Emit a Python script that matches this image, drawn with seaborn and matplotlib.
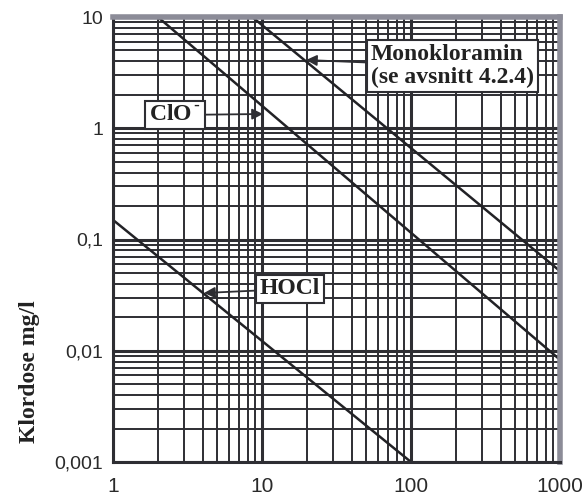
import numpy as np
import pandas as pd
import matplotlib
matplotlib.use('Agg')
import matplotlib.pyplot as plt
import seaborn as sns
from matplotlib.ticker import LogLocator, FixedLocator, FixedFormatter, NullFormatter

# Ct lines: (time, chlorine dose) end points
hocl_t = [1, 100]
hocl_c = [0.15, 0.001]
clo_t = [2, 1000]
clo_c = [10, 0.0083]
mono_t = [8.6, 1000]
mono_c = [10, 0.052]

x_ticks = [1, 10, 100, 1000]
x_labels = ['1', '10', '100', '1000']
y_ticks = [0.001, 0.01, 0.1, 1, 10]
y_labels = ['0,001', '0,01', '0,1', '1', '10']

df = pd.concat([
    pd.DataFrame({'t': hocl_t, 'c': hocl_c, 'serie': 'HOCl'}),
    pd.DataFrame({'t': clo_t, 'c': clo_c, 'serie': 'ClO-'}),
    pd.DataFrame({'t': mono_t, 'c': mono_c, 'serie': 'Monokloramin'}),
])

sns.set_style('white')
plt.rcParams['font.family'] = ['Liberation Sans', 'DejaVu Sans']

W, H = 587, 497
dark = '#2e2e33'
fig = plt.figure(figsize=(W / 100, H / 100), dpi=100)
ax = fig.add_axes([113 / W, 1 - 462 / H, (560 - 113) / W, (462 - 17) / H])

ax.set_xscale('log')
ax.set_yscale('log')
ax.set_xlim(1, 1000)
ax.set_ylim(0.001, 10)

# dense log grid
ax.xaxis.set_minor_locator(LogLocator(base=10, subs=np.arange(2, 10)))
ax.yaxis.set_minor_locator(LogLocator(base=10, subs=np.arange(2, 10)))
ax.xaxis.set_minor_formatter(NullFormatter())
ax.yaxis.set_minor_formatter(NullFormatter())
ax.grid(True, which='major', color=dark, lw=2.2)
ax.grid(True, which='minor', color=dark, lw=1.4)
ax.set_axisbelow(True)

sns.lineplot(data=df, x='t', y='c', units='serie', estimator=None,
             color='#222226', lw=1.8, ax=ax, legend=False, sort=False)

ax.xaxis.set_major_locator(FixedLocator(x_ticks))
ax.xaxis.set_major_formatter(FixedFormatter(x_labels))
ax.yaxis.set_major_locator(FixedLocator(y_ticks))
ax.yaxis.set_major_formatter(FixedFormatter(y_labels))
ax.tick_params(axis='x', which='major', length=4, width=1.2, color=dark, pad=7,
               labelsize=15, labelcolor='#2a2a2a')
ax.tick_params(axis='y', which='major', length=5, width=1.2, color=dark, pad=2,
               labelsize=14, labelcolor='#2a2a2a')
ax.tick_params(which='minor', length=0)
ax.set_xlabel('')
ax.set_ylabel('')

for side in ['left', 'bottom']:
    ax.spines[side].set_color(dark)
    ax.spines[side].set_linewidth(2.2)
for side in ['top', 'right']:
    ax.spines[side].set_color('#8c8c98')
    ax.spines[side].set_linewidth(4)

fig.text(30 / W, 1 - 372 / H, 'Klordose mg/l', rotation=90, ha='center', va='center',
         fontsize=17, fontweight='bold', family='Liberation Serif', color='#222')


def px(x, y):
    # reference pixel position (from top-left) -> figure pixels
    return (x, H - y)


box = dict(boxstyle='square,pad=0.15', fc='white', ec=dark, lw=1.5)
arrow = dict(arrowstyle='-|>', color=dark, lw=1.3, mutation_scale=16, shrinkA=0, shrinkB=0)
tf = dict(fontsize=17, fontweight='bold', family='Liberation Serif', color='#222')

ax.annotate('Monokloramin\n(se avsnitt 4.2.4)', xy=px(306, 60), xytext=px(371, 66),
            xycoords='figure pixels', textcoords='figure pixels', ha='left', va='center',
            bbox=box, arrowprops=arrow, linespacing=1.15, **tf)
ax.annotate('ClO$^{\\,\\text{-}}$', xy=px(263, 114), xytext=px(175, 115),
            xycoords='figure pixels', textcoords='figure pixels', ha='center', va='center',
            bbox=box, arrowprops=arrow, **tf)
ax.annotate('HOCl', xy=px(204, 293), xytext=px(290, 289),
            xycoords='figure pixels', textcoords='figure pixels', ha='center', va='center',
            bbox=box, arrowprops=arrow, **tf)

fig.savefig('out.png', dpi=100)
